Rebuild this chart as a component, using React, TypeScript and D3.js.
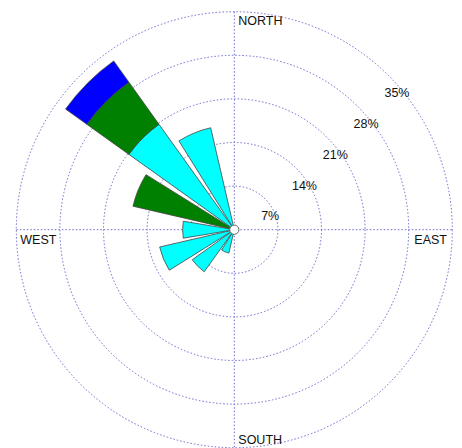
import React from "react";
import * as d3 from "d3";

const directions = ["N","NNE","NE","ENE","E","ESE","SE","SSE","S","SSW","SW","WSW","W","WNW","NW","NNW"];
const seriesCyan =  [0,0,0,0,0,0,0,0,0,3.85,8.3,12.3,8.3,0,20.8,16.8];
const seriesGreen = [0,0,0,0,0,0,0,0,0,0,0,0,0,16.7,8.3,0];
const seriesBlue =  [0,0,0,0,0,0,0,0,0,0,0,0,0,0,4.2,0];
const ringTicks = [7, 14, 21, 28, 35];
const compassLabels = ["NORTH", "EAST", "SOUTH", "WEST"];

const W = 462, H = 448;
const cx = 234.3, cy = 229.7;
const R = 218;

export default function App() {
  const r = d3.scaleLinear().domain([0, 35]).range([0, R]);
  const step = (2 * Math.PI) / directions.length;
  const half = (step * 0.84) / 2;
  const arc = d3.arc<any>();
  const series = [
    { vals: seriesCyan, color: "#00ffff" },
    { vals: seriesGreen, color: "#008000" },
    { vals: seriesBlue, color: "#0000ff" },
  ];
  const bars: any[] = [];
  directions.forEach((d, i) => {
    let acc = 0;
    series.forEach((s, k) => {
      const v = s.vals[i];
      if (v > 0) {
        bars.push({ key: d + k, inner: r(acc), outer: r(acc + v), a: i * step, color: s.color });
        acc += v;
      }
    });
  });
  const gridColor = "#6b6bcf";
  const font = "Arial, 'Liberation Sans', sans-serif";
  const lab = (t: string, x: number, y: number) => (
    <text key={t} x={x} y={y} fontFamily={font} fontSize={12.5} fill="#111">{t}</text>
  );
  return (
    <svg width={W} height={H} style={{ position: "absolute", left: 0, top: 0, background: "#fff" }}>
      <g>
        {ringTicks.map((t) => (
          <circle key={t} cx={cx} cy={cy} r={r(t)} fill="none" stroke={gridColor} strokeWidth={1} strokeDasharray="1.5,2" />
        ))}
        <line x1={cx - R} x2={cx + R} y1={cy} y2={cy} stroke={gridColor} strokeDasharray="1.5,2" />
        <line x1={cx} x2={cx} y1={cy - R} y2={cy + R} stroke={gridColor} strokeDasharray="1.5,2" />
      </g>
      <g transform={`translate(${cx},${cy})`}>
        {bars.map((b) => (
          <path
            key={b.key}
            d={arc({ innerRadius: b.inner, outerRadius: b.outer, startAngle: b.a - half, endAngle: b.a + half }) as string}
            fill={b.color}
            stroke="#444"
            strokeWidth={0.8}
            strokeLinejoin="miter"
          />
        ))}
        <circle r={4.6} fill="#fff" stroke="#666" strokeWidth={1} />
      </g>
      {lab(compassLabels[0], cx + 4, cy - R + 13.5)}
      {lab(compassLabels[1], cx + R - 38, cy + 14)}
      {lab(compassLabels[2], cx + 4, cy + R - 4)}
      {lab(compassLabels[3], cx - R + 4, cy + 14)}
      {ringTicks.map((t) => (
        <text key={"t" + t} x={cx + r(t) * Math.SQRT1_2 - 4} y={cy - r(t) * Math.SQRT1_2 + 21.5}
          fontFamily={font} fontSize={12.5} fill="#111">{t}%</text>
      ))}
    </svg>
  );
}
